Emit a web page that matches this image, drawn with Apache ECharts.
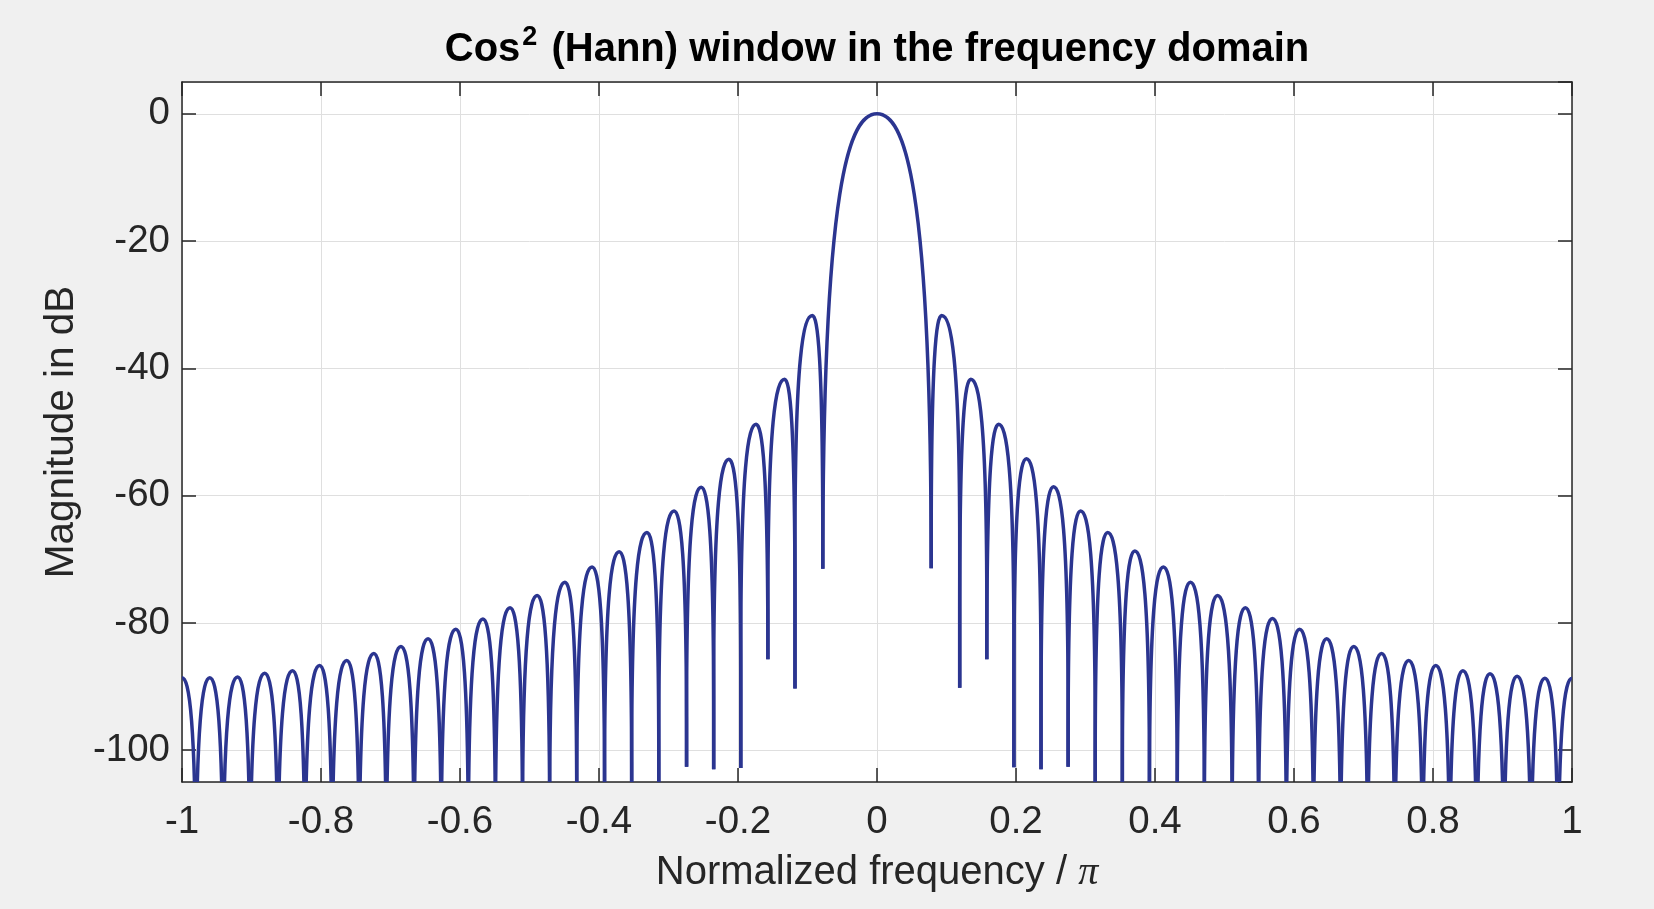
<!DOCTYPE html>
<html>
<head>
<meta charset="utf-8">
<title>Hann window spectrum</title>
<script src="https://cdn.jsdelivr.net/npm/echarts@6/dist/echarts.min.js"></script>
<style>
  html, body { margin: 0; padding: 0; background: #f0f0f0; }
  #chart { width: 1654px; height: 909px; }
</style>
</head>
<body>
<div id="chart"></div>
<script>
// side lobe tops (freq / pi, dB)
var peakFreq = [-1.0, -0.960, -0.920, -0.881, -0.841, -0.802, -0.763, -0.724, -0.685, -0.646,
    -0.606, -0.567, -0.528, -0.489, -0.449, -0.410, -0.371, -0.331, -0.292, -0.253,
    -0.213, -0.174, -0.133, -0.093, 0,
    0.093, 0.135, 0.175, 0.215, 0.254, 0.293, 0.332, 0.371, 0.412, 0.451,
    0.490, 0.530, 0.569, 0.608, 0.647, 0.686, 0.726, 0.765, 0.804, 0.843,
    0.882, 0.921, 0.961, 1.0];
var peakDb = [-88.6, -88.6, -88.5, -87.9, -87.5, -86.7, -85.9, -84.8, -83.7, -82.5,
    -81.0, -79.4, -77.6, -75.7, -73.6, -71.2, -68.8, -65.8, -62.4, -58.7,
    -54.3, -48.8, -41.7, -31.7, 0,
    -31.7, -41.7, -48.8, -54.2, -58.6, -62.4, -65.8, -68.7, -71.2, -73.6,
    -75.7, -77.6, -79.3, -81.0, -82.5, -83.7, -84.8, -85.9, -86.7, -87.5,
    -88.0, -88.4, -88.7, -88.7];

// nulls between the lobes; -125 = runs off the bottom of the axes
var nullFreq = [-1.04, -0.980, -0.941, -0.902, -0.862, -0.823, -0.784, -0.745, -0.706, -0.666,
    -0.627, -0.588, -0.549, -0.510, -0.471, -0.432, -0.392, -0.353, -0.314, -0.274,
    -0.235, -0.196, -0.157, -0.118, -0.078,
    0.078, 0.119, 0.158, 0.197, 0.236, 0.275, 0.314, 0.353, 0.392, 0.432,
    0.471, 0.511, 0.549, 0.589, 0.628, 0.667, 0.706, 0.745, 0.785, 0.824,
    0.863, 0.902, 0.941, 0.980, 1.04];
var nullDb = [-125, -125, -125, -125, -125, -125, -125, -125, -125, -125,
    -125, -125, -125, -125, -125, -125, -125, -125, -125, -102.6,
    -103.0, -102.8, -85.7, -90.3, -71.5,
    -71.4, -90.2, -85.7, -102.7, -103.0, -102.6, -125, -125, -125, -125,
    -125, -125, -125, -125, -125, -125, -125, -125, -125, -125,
    -125, -125, -125, -125, -125];

var xTicks = { min: -1, max: 1, step: 0.2 };
var yTicks = { min: -105, max: 5 };

var lobes = [];
for (var i = 0; i < peakFreq.length; i++) {
    lobes.push([nullFreq[i], peakFreq[i], nullFreq[i + 1], nullDb[i], peakDb[i], nullDb[i + 1]]);
}

var lineColor = "#2b3590";
var axisColor = "#262626";
var font = "'Liberation Sans', Arial, Helvetica, sans-serif";

function renderLobe(params, api) {
    var xl = api.value(0), xp = api.value(1), xr = api.value(2);
    var yl = api.value(3), yp = api.value(4), yr = api.value(5);
    var main = yp > -10;
    var deep = main ? 1000 : 36;   // height of the curved part below the top
    var c = main ? 10 : 6;          // how far the side tangent reaches
    var el = Math.max(yl, yp - deep), er = Math.max(yr, yp - deep);

    var p = function (x, y) { return api.coord([x, y]); };
    var L0 = p(xl, yl), L1 = p(xl, el), L2 = p(xl, yp - c), L3 = p(xp - 0.5 * (xp - xl), yp);
    var P = p(xp, yp);
    var R3 = p(xp + 0.5 * (xr - xp), yp), R2 = p(xr, yp - c), R1 = p(xr, er), R0 = p(xr, yr);

    var d = "M" + L0 + "L" + L1 +
        "C" + L2 + " " + L3 + " " + P +
        "C" + R3 + " " + R2 + " " + R1 +
        "L" + R0;
    return {
        type: "path",
        shape: { pathData: d.replace(/(\d),(-?\d)/g, "$1 $2") },
        style: { fill: null, stroke: lineColor, lineWidth: 3.5, lineJoin: "round" }
    };
}

function frameAxis(pos, isX) {
    var a = {
        type: "value", position: pos,
        axisLine: { show: true, onZero: false, lineStyle: { color: axisColor, width: 1.5 } },
        axisTick: { show: true, inside: true, length: 14, lineStyle: { color: axisColor, width: 1.5 } },
        axisLabel: { show: false },
        splitLine: { show: false }
    };
    if (isX) { a.min = xTicks.min; a.max = xTicks.max; a.interval = xTicks.step; }
    else { a.min = yTicks.min; a.max = yTicks.max; a.splitNumber = 5; }
    return a;
}

var chart = echarts.init(document.getElementById("chart"));

var xMain = frameAxis("bottom", true);
xMain.name = "Normalized frequency / {pi|π}";
xMain.nameLocation = "middle";
xMain.nameGap = 71;
xMain.nameTextStyle = {
    fontSize: 40, color: axisColor, fontFamily: font,
    rich: { pi: { fontSize: 40, fontFamily: "'Liberation Serif', 'DejaVu Serif', serif", fontStyle: "italic", color: axisColor } }
};
xMain.axisLabel = { show: true, fontSize: 38.5, color: axisColor, fontFamily: font, margin: 21 };
xMain.splitLine = { show: true, lineStyle: { color: "#dfdfdf", width: 1 } };

var yMain = frameAxis("left", false);
yMain.name = "Magnitude in dB";
yMain.nameLocation = "middle";
yMain.nameGap = 89;
yMain.nameRotate = 90;
yMain.nameTextStyle = { fontSize: 40.5, color: axisColor, fontFamily: font };
yMain.axisLabel = {
    show: true, fontSize: 38.5, color: axisColor, fontFamily: font, margin: 12,
    showMinLabel: false, showMaxLabel: false,
    formatter: function (v) { return v % 20 === 0 ? String(v) : ""; }
};
yMain.splitLine = { show: true, lineStyle: { color: "#dfdfdf", width: 1 } };

var option = {
    backgroundColor: "#f0f0f0",
    animation: false,
    grid: { left: 182, right: 82, top: 82, bottom: 127, show: true, backgroundColor: "#ffffff", borderWidth: 0 },
    graphic: [{
        type: "text",
        x: 877, y: 50,
        style: {
            text: "Cos{sup|2} (Hann) window in the frequency domain",
            font: "bold 40px " + font,
            fill: "#000",
            align: "center",
            verticalAlign: "middle",
            rich: {
                sup: { fontSize: 27, fontWeight: "bold", fontFamily: font, verticalAlign: "top", padding: [0, 3, 24, 2] }
            }
        }
    }],
    xAxis: [xMain, frameAxis("top", true)],
    yAxis: [yMain, frameAxis("right", false)],
    series: [{
        type: "custom",
        xAxisIndex: 0, yAxisIndex: 0,
        clip: true,
        renderItem: renderLobe,
        encode: { x: [0, 1, 2], y: [3, 4, 5] },
        data: lobes,
        silent: true
    }]
};

chart.setOption(option);
</script>
</body>
</html>
